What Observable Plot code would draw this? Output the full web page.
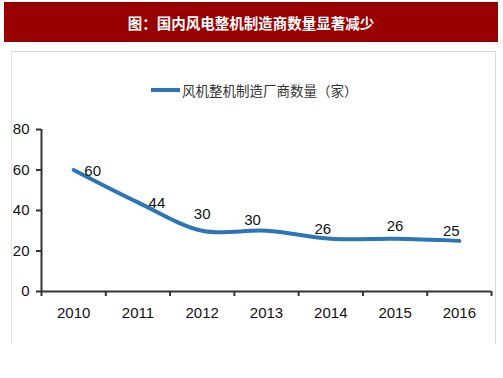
<!DOCTYPE html>
<html>
<head>
<meta charset="utf-8">
<script src="https://cdn.jsdelivr.net/npm/d3@7"></script>
<script src="https://cdn.jsdelivr.net/npm/@observablehq/plot@0.6"></script>
<style>
  html, body { margin: 0; padding: 0; background: #fff; }
  #wrap { position: relative; width: 503px; height: 378px; overflow: hidden; }
  #banner { position: absolute; left: 4px; top: 2px; width: 494px; height: 40px; background: #990000;
    color: #fff; font: bold 14.5px "Noto Sans CJK SC", sans-serif; display: flex; align-items: center; justify-content: center; }
  #frame { position: absolute; left: 11px; top: 51px; width: 483px; height: 292px;
    border-top: 1px solid #dadada; border-right: 1px solid #dadada; border-left: 1px solid #e6e6e6; }
  #legend { position: absolute; left: 151px; top: 80px; height: 20px; display: flex; align-items: center;
    font: 13.5px "Noto Sans CJK SC", sans-serif; color: #333; }
  #legend .sw { width: 29px; height: 4px; background: #2e75b6; margin-right: 2px; }
  #chart { position: absolute; left: 0; top: 0; }
</style>
</head>
<body>
<div id="wrap">
  <div id="banner"></div>
  <div id="frame"></div>
  <div id="legend"><span class="sw"></span><span id="legtext"></span></div>
  <div id="chart"></div>
</div>
<script>
const title = "图：国内风电整机制造商数量显著减少";
const seriesName = "风机整机制造厂商数量（家）";
const years = ["2010", "2011", "2012", "2013", "2014", "2015", "2016"];
const counts = [60, 44, 30, 30, 26, 26, 25];
const yTicks = [0, 20, 40, 60, 80];

// label nudges (pixels), layout only
const labelNudge = [[19, 1], [19, 1], [0, -17], [-14, -11], [-8, -10], [0, -13], [-8, -10]];

document.getElementById("banner").textContent = title;
document.getElementById("legtext").textContent = seriesName;

const data = years.map((y, i) => ({i: i + 0.5, year: y, value: counts[i]}));
const numFont = '"Liberation Sans Narrow", "Liberation Sans", Arial, sans-serif';

const labelMarks = data.map((d, k) => Plot.text([d], {
  x: "i", y: "value", text: d => String(d.value),
  dx: labelNudge[k][0], dy: labelNudge[k][1],
  fontSize: 15, fill: "#111", fontFamily: numFont
}));

const chart = Plot.plot({
  width: 503,
  height: 378,
  marginLeft: 41,
  marginRight: 12,
  marginTop: 129,
  marginBottom: 87,
  style: {background: "transparent", fontFamily: numFont, fontSize: "15px", color: "#111"},
  x: {domain: [0, years.length], axis: null},
  y: {domain: [0, 80], axis: null},
  marks: [
    Plot.axisY({ticks: yTicks, tickSize: 5, tickPadding: 7, stroke: "#333", strokeWidth: 2, fontSize: 15, label: null, fill: "#111"}),
    Plot.axisX({ticks: d3.range(years.length + 1), tickSize: 5, tickFormat: () => "", stroke: "#333", strokeWidth: 2, label: null}),
    Plot.axisX({ticks: data.map(d => d.i), tickSize: 0, tickPadding: 16, tickFormat: v => years[Math.floor(v)], fontSize: 15, label: null, fill: "#111"}),
    Plot.ruleX([0], {y1: 0, y2: 80, stroke: "#333", strokeWidth: 2}),
    Plot.ruleY([0], {x1: 0, x2: years.length, stroke: "#333", strokeWidth: 2}),
    Plot.line(data, {x: "i", y: "value", stroke: "#2e75b6", strokeWidth: 4, curve: "catmull-rom"}),
    ...labelMarks
  ]
});
document.getElementById("chart").appendChild(chart);
</script>
</body>
</html>
